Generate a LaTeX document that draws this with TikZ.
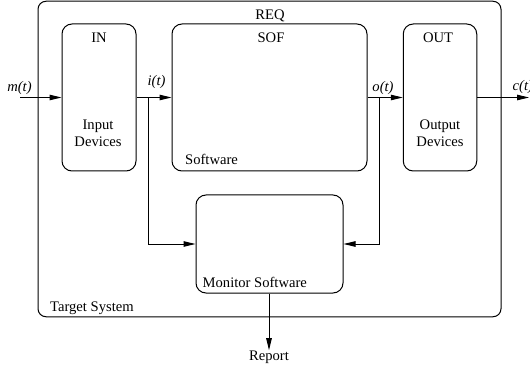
\documentclass[tikz,border=0pt]{standalone}
\usepackage{fontspec}
\setmainfont{Liberation Serif}
\usetikzlibrary{arrows.meta}
\begin{document}
\begin{tikzpicture}[x=1pt,y=-1pt,
  every node/.style={font=\fontsize{14.6}{17}\selectfont},
  box/.style={draw,line width=1pt,rounded corners=10pt,inner sep=0pt},
  txt/.style={inner sep=0pt},
  arr/.style={line width=1pt,-{Triangle[length=12pt,width=5.5pt]}},
  ln/.style={line width=1pt}]
\useasboundingbox (0,0) rectangle (530,366);
\node[box,rounded corners=8pt,minimum width=463pt,minimum height=315.5pt] (sys) at (269.5,159) {};
\node[box,minimum width=74pt,minimum height=147pt] (in) at (99,97.5) {};
\node[box,minimum width=195pt,minimum height=147pt] (sof) at (269.5,97.5) {};
\node[box,minimum width=73.5pt,minimum height=147pt] (out) at (440,97.5) {};
\node[box,minimum width=147pt,minimum height=98pt] (mon) at (269.5,244) {};
% labels
\node[txt,anchor=base] (req) at (270,20) {REQ};
\node[txt,anchor=base] (inl) at (99,43) {IN};
\node[txt,anchor=base] (sofl) at (271,43) {SOF};
\node[txt,anchor=base] (outl) at (438,43) {OUT};
\node[txt,anchor=base,align=center] (ind) at (98,146.8) {Input\\Devices};
\node[txt,anchor=base,align=center] (outd) at (440,146.8) {Output\\Devices};
\node[txt,anchor=base west] (sw) at (185,165) {Software};
\node[txt,anchor=base west] (msw) at (202.5,287) {Monitor Software};
\node[txt,anchor=base west] (ts) at (50,311.5) {Target System};
\node[txt,anchor=base] (rep) at (269,360) {Report};
\node[txt,anchor=base] (ml) at (19.5,91.5) {\textit{m(t)}};
\node[txt,anchor=base] (il) at (156.5,86) {\textit{i(t)}};
\node[txt,anchor=base] (ol) at (383,91.5) {\textit{o(t)}};
\node[txt,anchor=base west] (cl) at (512.5,91) {\textit{c(t)}};
% connectors
\coordinate (mstart) at (20,97.5);
\coordinate (cend) at (529,97.5);
\coordinate (bi) at (148,97.5);
\coordinate (bo) at (379,97.5);
\draw[arr] (mstart) -- (in.west);
\draw[arr] (in.east) -- (sof.west);
\draw[arr] (sof.east) -- (out.west);
\draw[arr] (out.east) -- (cend);
\draw[arr] (bi) |- (mon.west);
\draw[arr] (bo) |- (mon.east);
\draw[arr] (mon.south -| rep) -- (rep.north);
\end{tikzpicture}
\end{document}
